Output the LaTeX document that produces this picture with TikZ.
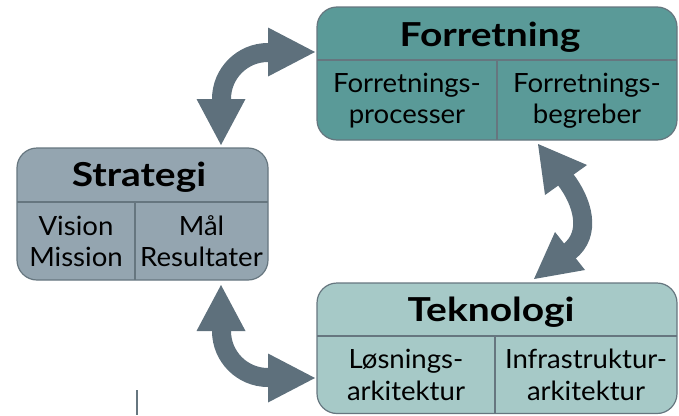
\documentclass[tikz,border=0pt]{standalone}
\usepackage{fontspec}
\setmainfont{Lato}[FakeStretch=1.04]
\newfontfamily\titlefont[FakeStretch=1.18]{Lato}
\definecolor{forrfill}{HTML}{5A9A98}
\definecolor{stratfill}{HTML}{94A5B0}
\definecolor{teknfill}{HTML}{A6C9C7}
\definecolor{arrowcol}{HTML}{5E707C}
\definecolor{edgecol}{HTML}{66767F}
\tikzset{
  box/.style={draw=edgecol, line width=1.2pt, rounded corners=20pt, inner sep=0pt},
  divider/.style={draw=edgecol, line width=1.2pt},
  ttl/.style={anchor=base, inner sep=0pt, font=\titlefont\bfseries\fontsize{33}{36}\selectfont},
  txt/.style={anchor=base, inner sep=0pt, font=\fontsize{26.5}{31}\selectfont},
  shaft/.style={draw=arrowcol, line width=19pt},
  head/.style={fill=arrowcol},
  tick/.style={draw=edgecol, line width=1.5pt}
}
\begin{document}
\begin{tikzpicture}[x=1pt,y=-1pt]
\useasboundingbox (0,0) rectangle (679,415);

% boxes
\draw[box, fill=forrfill] (317,7) rectangle (677,140);
\draw[divider] (317,60) -- (677,60);
\draw[divider] (497,60) -- (497,140);
\node[ttl] (forrT) at (490,46) {Forretning};
\node[txt] (f1a) at (407,92) {Forretnings-};
\node[txt] (f1b) at (407,123) {processer};
\node[txt] (f2a) at (587,92) {Forretnings-};
\node[txt] (f2b) at (587,123) {begreber};

\draw[box, fill=stratfill] (17,148) rectangle (268,280);
\draw[divider] (17,202) -- (268,202);
\draw[divider] (135,202) -- (135,280);
\node[ttl] (stratT) at (139,186) {Strategi};
\node[txt] (s1a) at (76,235) {Vision};
\node[txt] (s1b) at (76,266) {Mission};
\node[txt] (s2a) at (201.5,235) {Mål};
\node[txt] (s2b) at (201.5,266) {Resultater};

\draw[box, fill=teknfill] (317,283) rectangle (677,413.5);
\draw[divider] (317,336) -- (677,336);
\draw[divider] (495,336) -- (495,413.5);
\node[ttl] (teknT) at (491,321) {Teknologi};
\node[txt] (t1a) at (406,368) {Løsnings-};
\node[txt] (t1b) at (406,400) {arkitektur};
\node[txt] (t2a) at (586,368) {Infrastruktur-};
\node[txt] (t2b) at (586,400) {arkitektur};

% arrow strategi <-> forretning
\coordinate (a1f) at (315,52);
\coordinate (a1s) at (221,145);
\draw[shaft] (221.5,101) -- (221.5,99) arc[start angle=180,end angle=270,radius=46.5] -- (270,52.5);
\fill[head] (a1f) -- (268,27.5) -- (268,76.5) -- cycle;
\fill[head] (a1s) -- (196.5,99) -- (245.5,99) -- cycle;

% arrow strategi <-> teknologi
\coordinate (a2s) at (221,285);
\coordinate (a2t) at (315,378);
\draw[shaft] (221.5,329) -- (221.5,331) arc[start angle=180,end angle=90,radius=46.5] -- (270,377.5);
\fill[head] (a2s) -- (196.5,331) -- (245.5,331) -- cycle;
\fill[head] (a2t) -- (268,353.5) -- (268,402.5) -- cycle;

% arrow forretning <-> teknologi
\coordinate (a3f) at (538,144);
\coordinate (a3t) at (534,279);
\draw[shaft] (565,178.8) .. controls (583,202) and (592,234) .. (568.8,251.9);
\fill[head] (a3f) -- (545,195) -- (587,165) -- cycle;
\fill[head] (a3t) -- (555,232) -- (585,270) -- cycle;

% small tick
\draw[tick] (137,390) -- (137,415);
\end{tikzpicture}
\end{document}
